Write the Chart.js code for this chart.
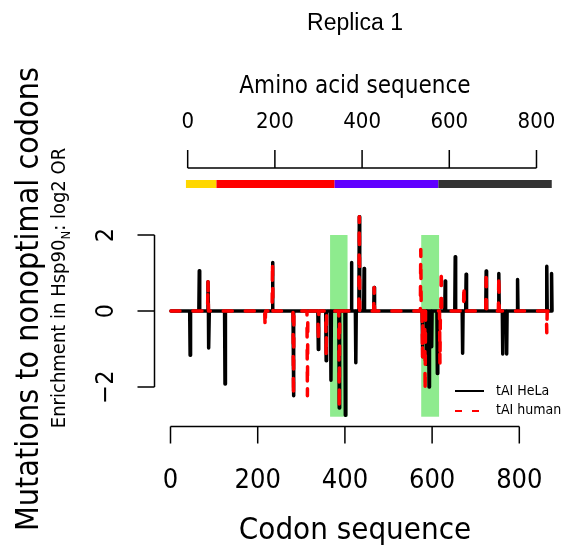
<!DOCTYPE html>
<html>
<head>
<meta charset="utf-8">
<script src="https://cdn.jsdelivr.net/npm/chart.js@4.4.1/dist/chart.umd.min.js"></script>
<style>
  html, body { margin: 0; padding: 0; background: #fff; }
  canvas { display: block; }
</style>
</head>
<body>
<canvas id="chart" width="572" height="549"></canvas>
<script>
// codon positions with a non-zero log2 OR, one array pair per tAI source
const helaCodons = [45, 66, 86, 88, 125, 234, 282, 339, 357, 368, 387, 401, 415, 425, 433, 444, 467,
    578, 588, 593, 599, 612, 630, 653, 670, 678, 724, 753, 762, 771, 796, 863, 874];
const helaValues = [-1.16, 1.06, 0.77, -0.97, -1.92, 1.28, -2.23, -1.01, -1.31, -1.82, -2.55, -2.74, 1.28, -1.36, 2.48, 1.12, 0.62,
    -1.2, -1.4, -2.0, -0.94, -1.64, 0.79, 1.43, -1.11, 0.97, 1.05, 0.99, -1.13, -1.13, 0.83, 1.18, 0.99];
const humanCodons = [86, 217, 234, 282, 314, 339, 357, 387, 433, 467, 574, 578, 584, 618, 621, 673, 724, 753, 863];
const humanValues = [0.77, -0.41, 1.28, -2.23, -2.23, -0.8, -1.2, -2.55, 2.48, 0.62, 1.62, -1.2, -2.1, -1.38, 1.08, 0.68, 1.05, 0.93, -0.57];
const helaLength = 876;
const humanLength = 868;

// highlighted codon windows
const shadeStart = [366, 575];
const shadeEnd = [406, 616];
const shadeTop = 2;
const shadeBottom = -2.78;

// domain bar along the amino acid axis
const domainStart = [-4, 66, 337, 575];
const domainEnd = [66, 337, 575, 835];
const domainColors = ['#ffd700', '#ff0000', '#6000ff', '#333333'];

const codonTicks = [0, 200, 400, 600, 800];
const aminoTicks = [0, 200, 400, 600, 800];
const yTicks = [-2, 0, 2];

const legendLabels = ['tAI HeLa', 'tAI human'];

const FONT = '"DejaVu Sans Condensed", "DejaVu Sans", sans-serif';

// the profile is zero everywhere except at the listed codons
function buildProfile(codons, values, length) {
    const pts = [{ x: 1, y: 0 }];
    for (let i = 0; i < codons.length; i++) {
        const c = codons[i];
        if (i === 0 || codons[i - 1] !== c - 1) pts.push({ x: c - 1, y: 0 });
        pts.push({ x: c, y: values[i] });
        if (i === codons.length - 1 || codons[i + 1] !== c + 1) pts.push({ x: c + 1, y: 0 });
    }
    pts.push({ x: length, y: 0 });
    return pts;
}

function rotatedText(ctx, text, x, y, font) {
    ctx.save();
    ctx.translate(x, y);
    ctx.rotate(-Math.PI / 2);
    ctx.font = font;
    ctx.textAlign = 'center';
    ctx.textBaseline = 'alphabetic';
    ctx.fillText(text, 0, 0);
    ctx.restore();
}

const rSkin = {
    id: 'rSkin',
    beforeDatasetsDraw(chart) {
        const ctx = chart.ctx;
        const x = chart.scales.x, y = chart.scales.y;
        ctx.save();
        ctx.fillStyle = '#8eeb8e';
        for (let i = 0; i < shadeStart.length; i++) {
            const x0 = x.getPixelForValue(shadeStart[i]);
            const x1 = x.getPixelForValue(shadeEnd[i]);
            const y0 = y.getPixelForValue(shadeTop);
            const y1 = y.getPixelForValue(shadeBottom);
            ctx.fillRect(x0, y0, x1 - x0, y1 - y0);
        }
        ctx.restore();
    },
    afterDraw(chart) {
        const ctx = chart.ctx;
        const x = chart.scales.x, x2 = chart.scales.x2, y = chart.scales.y;
        const area = chart.chartArea;
        const mid = (area.left + area.right) / 2;
        ctx.save();
        ctx.strokeStyle = '#000';
        ctx.fillStyle = '#000';
        ctx.lineWidth = 1.5;
        ctx.lineCap = 'butt';

        // title
        ctx.font = '23px "Liberation Sans", Arial, sans-serif';
        ctx.textAlign = 'center';
        ctx.textBaseline = 'alphabetic';
        ctx.fillText('Replica 1', mid, 30);

        // bottom axis (codons)
        const by = 426.5;
        ctx.beginPath();
        ctx.moveTo(x.getPixelForValue(codonTicks[0]), by);
        ctx.lineTo(x.getPixelForValue(codonTicks[codonTicks.length - 1]), by);
        codonTicks.forEach(t => {
            const px = x.getPixelForValue(t);
            ctx.moveTo(px, by);
            ctx.lineTo(px, by + 17);
        });
        ctx.stroke();
        ctx.font = '27px ' + FONT;
        codonTicks.forEach(t => ctx.fillText(String(t), x.getPixelForValue(t), 488));
        ctx.font = '31px ' + FONT;
        ctx.fillText('Codon sequence', mid, 539);

        // top axis (amino acids)
        const ty = 168;
        ctx.beginPath();
        ctx.moveTo(x2.getPixelForValue(aminoTicks[0]), ty);
        ctx.lineTo(x2.getPixelForValue(aminoTicks[aminoTicks.length - 1]), ty);
        aminoTicks.forEach(t => {
            const px = x2.getPixelForValue(t);
            ctx.moveTo(px, ty);
            ctx.lineTo(px, ty - 18);
        });
        ctx.stroke();
        ctx.font = '22px ' + FONT;
        aminoTicks.forEach(t => ctx.fillText(String(t), x2.getPixelForValue(t), 128));
        ctx.font = '24px ' + FONT;
        ctx.fillText('Amino acid sequence', mid, 93);

        // domain bar
        for (let i = 0; i < domainStart.length; i++) {
            const x0 = x2.getPixelForValue(domainStart[i]);
            const x1 = x2.getPixelForValue(domainEnd[i]);
            ctx.fillStyle = domainColors[i];
            ctx.fillRect(x0, 180, x1 - x0, 8);
        }
        ctx.fillStyle = '#000';

        // left axis
        const lx = area.left;
        ctx.beginPath();
        ctx.moveTo(lx, y.getPixelForValue(yTicks[0]));
        ctx.lineTo(lx, y.getPixelForValue(yTicks[yTicks.length - 1]));
        yTicks.forEach(t => {
            const py = y.getPixelForValue(t);
            ctx.moveTo(lx, py);
            ctx.lineTo(lx - 17, py);
        });
        ctx.stroke();
        yTicks.forEach(t => {
            const label = t < 0 ? '\u2212' + Math.abs(t) : String(t);
            rotatedText(ctx, label, 113, y.getPixelForValue(t), '25px ' + FONT);
        });

        // y titles
        rotatedText(ctx, 'Mutations to nonoptimal codons', 38, 299, '32px ' + FONT);
        ctx.save();
        ctx.translate(65, 288);
        ctx.rotate(-Math.PI / 2);
        const big = '20px ' + FONT, small = '13px ' + FONT;
        const p1 = 'Enrichment in Hsp90', sub = 'N', p2 = ': log2 OR';
        ctx.font = big;
        const w1 = ctx.measureText(p1).width, w3 = ctx.measureText(p2).width;
        ctx.font = small;
        const w2 = ctx.measureText(sub).width;
        let cx = -(w1 + w2 + w3) / 2;
        ctx.textAlign = 'left';
        ctx.font = big;
        ctx.fillText(p1, cx, 0);
        cx += w1;
        ctx.font = small;
        ctx.fillText(sub, cx, 5);
        cx += w2;
        ctx.font = big;
        ctx.fillText(p2, cx, 0);
        ctx.restore();

        // legend
        ctx.lineWidth = 2;
        ctx.strokeStyle = '#000';
        ctx.beginPath();
        ctx.moveTo(455, 391);
        ctx.lineTo(484, 391);
        ctx.stroke();
        ctx.strokeStyle = '#ff0000';
        ctx.setLineDash([7, 10]);
        ctx.beginPath();
        ctx.moveTo(455, 411);
        ctx.lineTo(484, 411);
        ctx.stroke();
        ctx.setLineDash([]);
        ctx.font = '14px ' + FONT;
        ctx.textAlign = 'left';
        ctx.textBaseline = 'middle';
        ctx.fillText(legendLabels[0], 496, 391);
        ctx.fillText(legendLabels[1], 496, 410);
        ctx.restore();
    }
};

new Chart(document.getElementById('chart'), {
    type: 'line',
    data: {
        datasets: [{
            label: legendLabels[1],
            data: buildProfile(humanCodons, humanValues, humanLength),
            borderColor: '#ff0000',
            borderWidth: 3.5,
            borderDash: [9, 13],
            borderCapStyle: 'round',
            borderJoinStyle: 'round',
            pointRadius: 0,
            tension: 0,
            fill: false
        }, {
            label: legendLabels[0],
            data: buildProfile(helaCodons, helaValues, helaLength),
            borderColor: '#000000',
            borderWidth: 3.5,
            borderCapStyle: 'round',
            borderJoinStyle: 'round',
            pointRadius: 0,
            tension: 0,
            fill: false
        }]
    },
    options: {
        responsive: false,
        animation: false,
        devicePixelRatio: 1,
        layout: { padding: { left: 154.5, right: 16.5, top: 208.4, bottom: 122.4 } },
        plugins: { legend: { display: false }, tooltip: { enabled: false }, title: { display: false } },
        scales: {
            x: { type: 'linear', min: -36.7, max: 883, display: false },
            x2: { type: 'linear', axis: 'x', position: 'top', min: -76.1, max: 843.6, display: false },
            y: { type: 'linear', min: -3.04, max: 2.7, display: false }
        }
    },
    plugins: [rSkin]
});
</script>
</body>
</html>
